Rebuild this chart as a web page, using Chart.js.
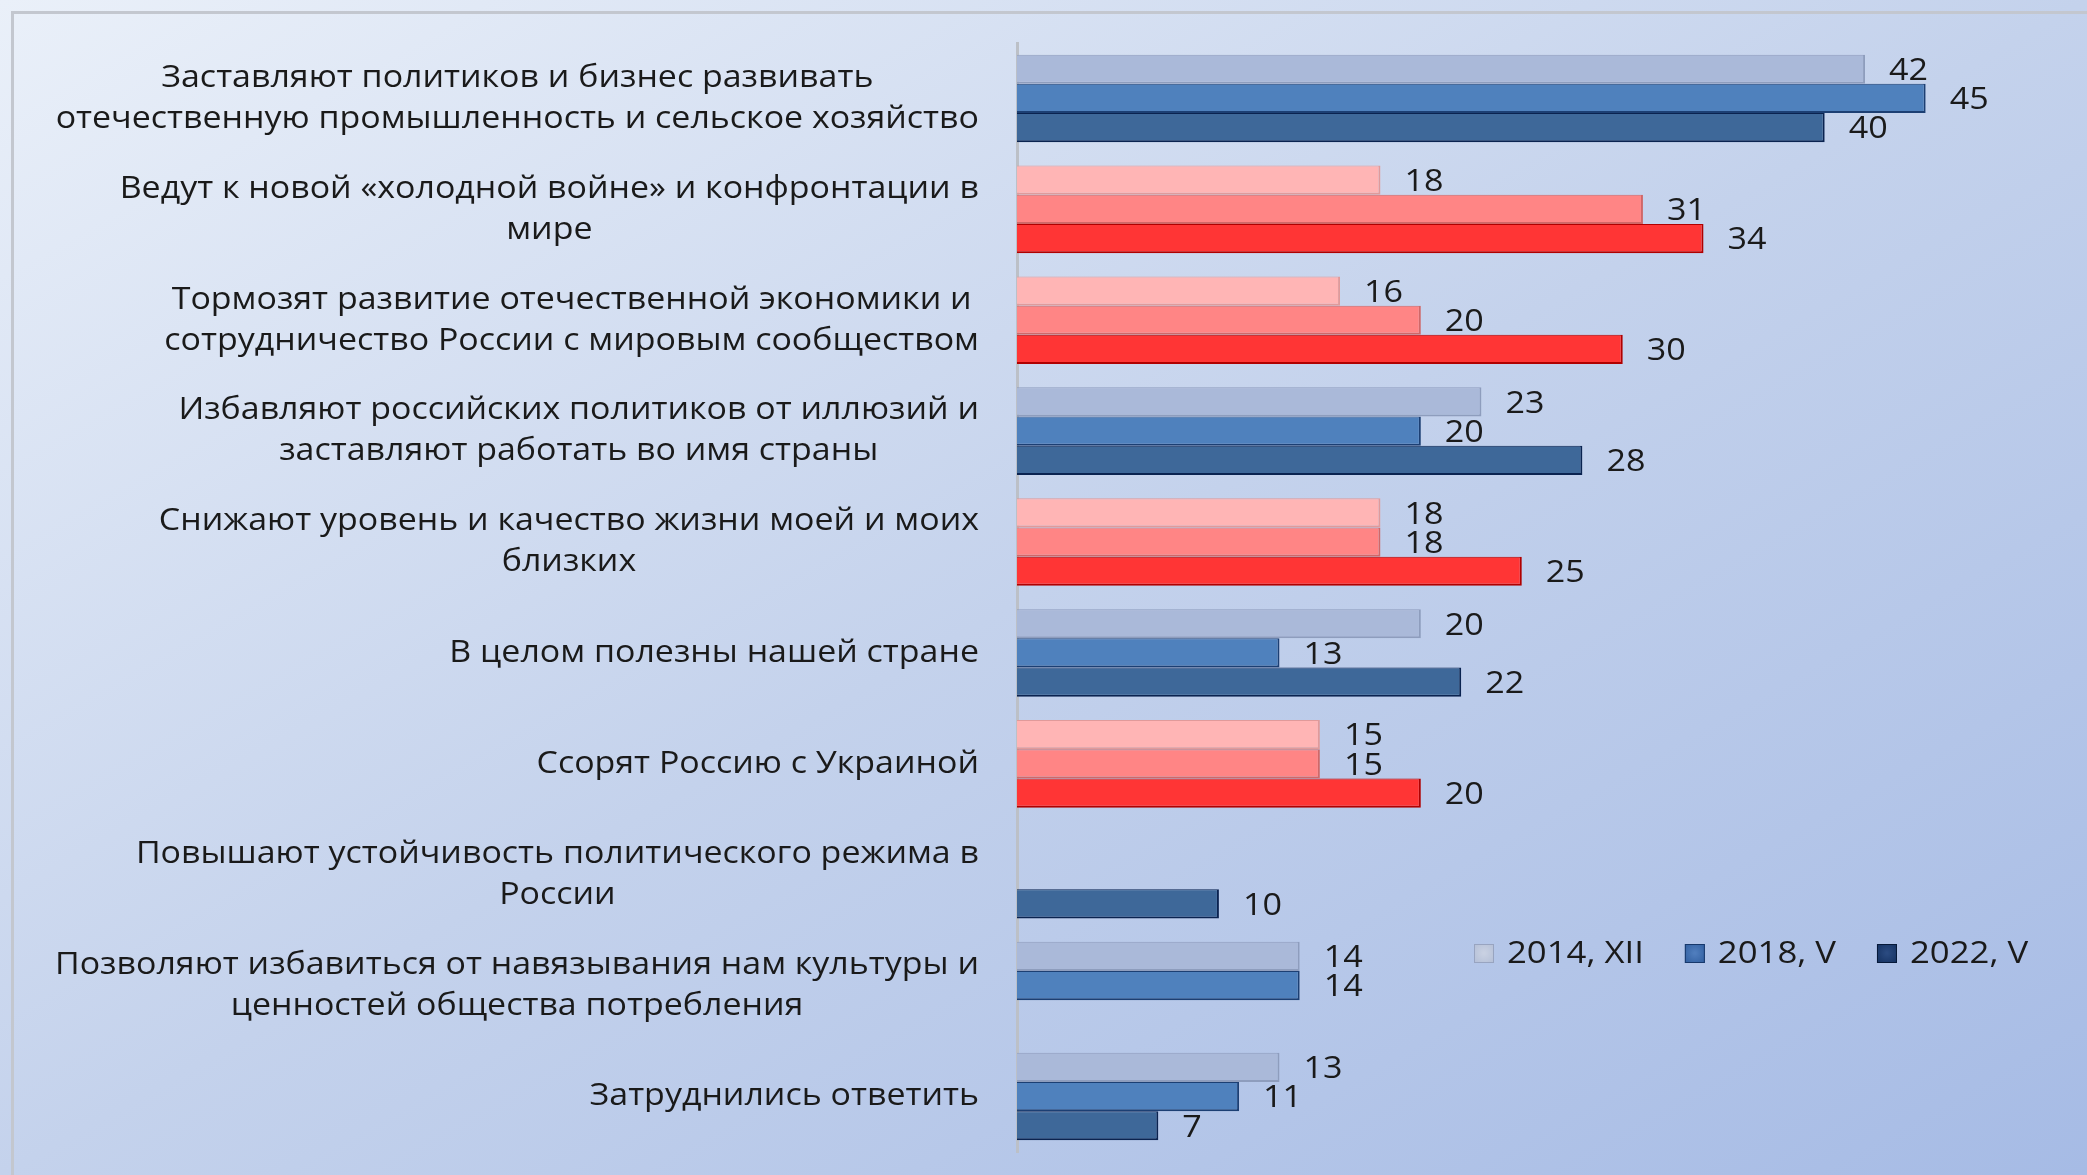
<!DOCTYPE html>
<html lang="ru">
<head>
<meta charset="utf-8">
<title>Санкции</title>
<script src="https://cdn.jsdelivr.net/npm/chart.js@4.4.1/dist/chart.umd.min.js"></script>
<style>
  html, body { margin: 0; padding: 0; overflow: hidden; }
  body {
    width: 2087px; height: 1175px; position: relative;
    background: linear-gradient(to bottom right, #eaf0f9 0%, #c4d2ec 50%, #a6bbe5 100%);
  }
  #frame {
    position: absolute; left: 11px; top: 11px; width: 2100px; height: 1200px;
    border-left: 3px solid #c3c7cf; border-top: 3px solid #c3c7cf;
  }
  #wrap { position: absolute; left: 0; top: 0; width: 2087px; height: 1175px; }
</style>
</head>
<body>
<div id="frame"></div>
<div id="wrap"><canvas id="barchart"></canvas></div>
<script>
var categories = [
  ['Заставляют политиков и бизнес развивать', 'отечественную промышленность и сельское хозяйство'],
  ['Ведут к новой «холодной войне» и конфронтации в', 'мире'],
  ['Тормозят развитие отечественной экономики и', 'сотрудничество России с мировым сообществом'],
  ['Избавляют российских политиков от иллюзий и', 'заставляют работать во имя страны'],
  ['Снижают уровень и качество жизни моей и моих', 'близких'],
  ['В целом полезны нашей стране'],
  ['Ссорят Россию с Украиной'],
  ['Повышают устойчивость политического режима в', 'России'],
  ['Позволяют избавиться от навязывания нам культуры и', 'ценностей общества потребления'],
  ['Затруднились ответить']
];
// true = negative effect (red bars)
var negative = [false, true, true, false, true, false, true, false, false, false];

var seriesNames = ['2014, XII', '2018, V', '2022, V'];
var values2014 = [42, 18, 16, 23, 18, 20, 15, null, 14, 13];
var values2018 = [45, 31, 20, 20, 18, 13, 15, null, 14, 11];
var values2022 = [40, 34, 30, 28, 25, 22, 20, 10, null, 7];

var blueFill = ['#aab9d9', '#4f81bd', '#3e6899'];
var blueEdge = ['#8e9dbd', '#1c3f73', '#0a2350'];
var redFill = ['#ffb5b5', '#ff8585', '#ff3535'];
var redEdge = ['#e09a9a', '#d06868', '#b00000'];
var legendFill = ['#b3bed6', '#2f5d9e', '#13305f'];
var legendEdge = ['#98a4c0', '#17386b', '#061939'];

function pick(s, arrBlue, arrRed) {
  return negative.map(function (neg) { return neg ? arrRed[s] : arrBlue[s]; });
}

var allValues = [values2014, values2018, values2022];
var datasets = allValues.map(function (vals, s) {
  return {
    label: seriesNames[s],
    data: vals,
    backgroundColor: pick(s, blueFill, redFill),
    borderColor: pick(s, blueEdge, redEdge),
    borderWidth: { top: 1, right: 2, bottom: 2, left: 0 },
    borderSkipped: 'start',
    categoryPercentage: 0.79,
    barPercentage: 1.0
  };
});

// draws text stretched horizontally (source picture is widened)
function wideText(c, t, x, y, sx) {
  c.save();
  c.translate(x, y);
  c.scale(sx, 1);
  c.fillText(t, 0, 0);
  c.restore();
}

var labelPlugin = {
  id: 'sideLabels',
  afterDatasetsDraw: function (chart) {
    var c = chart.ctx, y = chart.scales.y, area = chart.chartArea;
    c.save();
    c.fillStyle = '#1a1a1a';
    c.textBaseline = 'middle';

    // category labels, block right-aligned, lines centered
    c.font = '31px "Open Sans"';
    c.textAlign = 'center';
    var longest = 0;
    categories.forEach(function (lines) {
      lines.forEach(function (t) { longest = Math.max(longest, c.measureText(t).width); });
    });
    var sx = 924 / longest;
    categories.forEach(function (lines, i) {
      var cy = y.getPixelForValue(i);
      var w = 0;
      lines.forEach(function (t) { w = Math.max(w, c.measureText(t).width * sx); });
      var cx = area.left - 38 - w / 2;
      lines.forEach(function (t, k) {
        wideText(c, t, cx, cy + (k - (lines.length - 1) / 2) * 41, sx);
      });
    });

    // value labels
    var vsx = 1.1;
    c.font = '31px "Open Sans"';
    c.textAlign = 'left';
    chart.data.datasets.forEach(function (ds, s) {
      var meta = chart.getDatasetMeta(s);
      meta.data.forEach(function (el, i) {
        if (ds.data[i] == null) return;
        wideText(c, String(ds.data[i]), el.x + 24, el.y + 2, vsx);
      });
    });

    // legend
    var lx = area.left + 457, ly = 953;
    seriesNames.forEach(function (name, s) {
      var g = c.createRadialGradient(lx + 10, ly, 1, lx + 10, ly, 14);
      g.addColorStop(0, s === 0 ? '#c9d1e2' : (s === 1 ? '#4f7dbd' : '#2a4a80'));
      g.addColorStop(1, legendFill[s]);
      c.fillStyle = g;
      c.fillRect(lx, ly - 9, 20, 19);
      c.strokeStyle = legendEdge[s];
      c.lineWidth = 1;
      c.strokeRect(lx + 0.5, ly - 8.5, 19, 18);
      c.fillStyle = '#1a1a1a';
      wideText(c, name, lx + 33, ly + 1, 1.12);
      lx += 33 + c.measureText(name).width * 1.12 + 41;
    });
    c.restore();
  }
};

var ctx = document.getElementById('barchart');
var myChart = new Chart(ctx, {
  type: 'bar',
  data: { labels: categories, datasets: datasets },
  options: {
    indexAxis: 'y',
    responsive: true,
    maintainAspectRatio: false,
    animation: false,
    layout: { padding: { left: 1017, top: 43, right: 20, bottom: 23 } },
    scales: {
      x: { display: false, min: 0, max: 52 },
      y: {
        ticks: { display: false },
        grid: { display: false, drawTicks: false },
        border: { display: true, color: '#bcc0c7', width: 3 }
      }
    },
    plugins: {
      legend: { display: false },
      tooltip: { enabled: false }
    }
  },
  plugins: [labelPlugin]
});
</script>
</body>
</html>
